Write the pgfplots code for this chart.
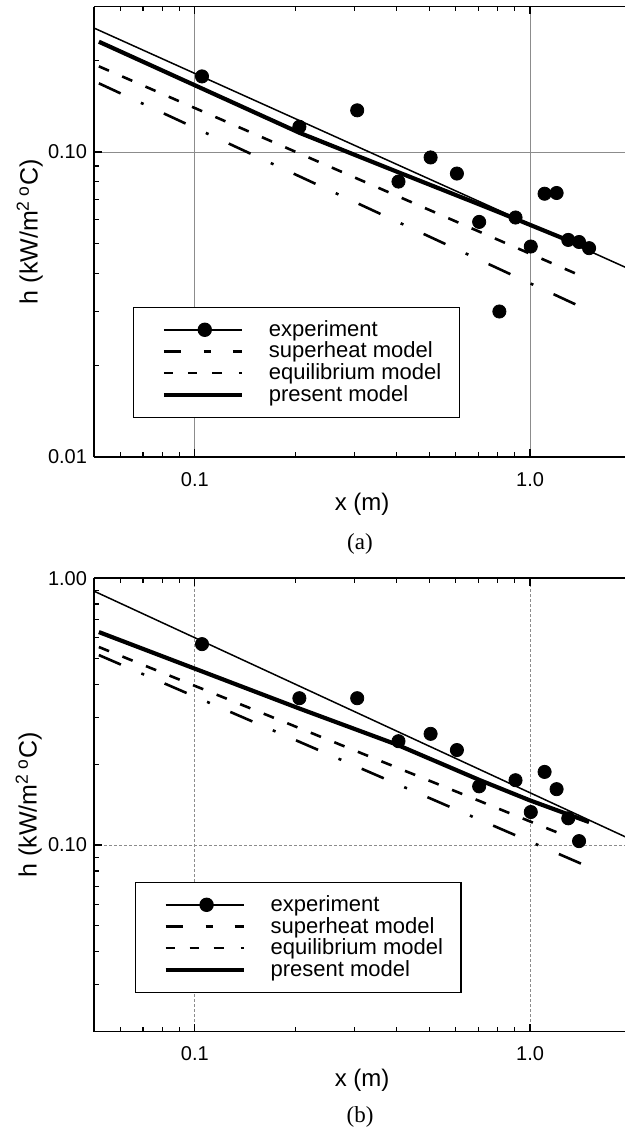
\documentclass[border=0pt]{standalone}
\usepackage{fontspec}
\setmainfont{Liberation Sans}
\newfontfamily\capfont{Liberation Serif}
\usepackage{pgfplots}
\pgfplotsset{compat=1.18}
\usepackage{pgfplotstable}

\pgfplotstableread{
x y
0.105 0.177
0.205 0.121
0.305 0.137
0.405 0.080
0.505 0.096
0.605 0.085
0.705 0.059
0.81 0.030
0.905 0.061
1.005 0.049
1.105 0.073
1.2 0.0734
1.3 0.0515
1.4 0.0507
1.5 0.0484
}\expA

\pgfplotstableread{
x y
0.105 0.566
0.205 0.355
0.305 0.355
0.405 0.245
0.505 0.261
0.605 0.227
0.705 0.166
0.905 0.175
1.005 0.133
1.105 0.188
1.2 0.162
1.3 0.126
1.4 0.1035
}\expB

\pgfplotsset{
  myaxis/.style={
    scale only axis,
    xmin=0.05, xmax=1.92,
    width=265.5pt,
    axis x line=box, axis y line=left,
    axis line style={-, line width=0.7pt},
    tick align=inside,
    every tick/.style={black, line width=0.6pt},
    major tick length=4pt, minor tick length=2.5pt,
    xtick={0.1,1}, xticklabels={0.1,1.0},
    minor xtick={0.06,0.07,0.08,0.09,0.2,0.3,0.4,0.5,0.6,0.7,0.8,0.9},
    tick label style={font=\fontsize{10}{12}\selectfont},
    xticklabel style={yshift=-4pt},
    xlabel={x (m)}, ylabel={h (kW/m\textsuperscript{2 o}C)},
    grid=major,
    legend cell align=left,
    legend style={anchor=north west, draw=black, line width=0.6pt, fill=white,
      inner xsep=9pt, inner ysep=6.35pt, row sep=1.4pt, column sep=12.5pt,
      font=\fontsize{11}{13}\selectfont,
      nodes={inner xsep=0pt, inner ysep=0pt}},
  },
  legexp/.style={legend image code/.code={\path (0pt,0pt); \draw[line width=0.75pt] (5pt,0pt) -- (44pt,0pt); \fill (25.5pt,0pt) circle (3.3pt);}},
  legsup/.style={legend image code/.code={\path (0pt,0pt); \draw[line width=1.1pt] (5pt,0pt) -- (13.8pt,0pt) (25pt,0pt) -- (28.5pt,0pt) (39.5pt,0pt) -- (44pt,0pt);}},
  legequ/.style={legend image code/.code={\path (0pt,0pt); \draw[line width=1.1pt] (5pt,0pt) -- (9.5pt,0pt) (17pt,0pt) -- (21.5pt,0pt) (29pt,0pt) -- (34pt,0pt) (42.5pt,0pt) -- (44pt,0pt);}},
  legpre/.style={legend image code/.code={\path (0pt,0pt); \draw[line width=2.1pt] (5pt,0pt) -- (44pt,0pt);}},
  thinline/.style={black, line width=0.75pt, forget plot},
  expmarks/.style={black, only marks, mark=*, mark size=3.3pt, legexp},
  supline/.style={black, line width=1.3pt, dash pattern=on 12pt off 11.15pt on 1.5pt off 11.15pt, legsup},
  equline/.style={black, line width=1.3pt, dash pattern=on 5.5pt off 7.2pt, legequ},
  preline/.style={black, line width=2.1pt, legpre},
}

\begin{document}
\begin{tikzpicture}
\useasboundingbox (0pt,0pt) rectangle (312.5pt,-565.5pt);

% ---------- panel (a)
\begin{axis}[xmode=log, ymode=log, myaxis, at={(47pt,-228.5pt)}, anchor=south west,
  height=225.25pt, ymin=0.01, ymax=0.3,
  ytick={0.01,0.1}, yticklabels={0.01,0.10},
  minor ytick={0.02,0.03,0.04,0.05,0.06,0.07,0.08,0.09,0.2,0.3},
  major grid style={black!45, line width=0.5pt},
  every axis y label/.style={at={(axis description cs:-0.121,0.5)}, rotate=90, anchor=center, font=\fontsize{12.5}{14}\selectfont},
  every axis x label/.style={at={(axis description cs:0.505,-0.105)}, anchor=center, font=\fontsize{12}{14}\selectfont},
  legend style={at={(axis description cs:0.0736,0.333)}},
]
\addplot[thinline] coordinates {(0.05,0.255) (2,0.0411)};
\addplot[expmarks] table[x=x,y=y] {\expA};
\addlegendentry{experiment}
\addplot[supline] coordinates {(0.0517,0.168) (1.38,0.0315)};
\addlegendentry{superheat model}
\addplot[equline] coordinates {(0.0517,0.191) (1.38,0.0398)};
\addlegendentry{equilibrium model}
\addplot[preline] coordinates {(0.0517,0.230) (0.206,0.1154) (0.406,0.0857) (0.70,0.0676) (0.89,0.0608) (1.25,0.0522) (1.5,0.048)};
\addlegendentry{present model}
\end{axis}

% ---------- panel (b)
\begin{axis}[xmode=log, ymode=log, myaxis, at={(47pt,-515.85pt)}, anchor=south west,
  height=226.8pt, ymin=0.02, ymax=1,
  ytick={0.1,1}, yticklabels={0.10,1.00},
  minor ytick={0.03,0.04,0.05,0.06,0.07,0.08,0.09,0.2,0.3,0.4,0.5,0.6,0.7,0.8,0.9},
  major grid style={black!45, line width=0.5pt, dash pattern=on 1.5pt off 1pt},
  every axis y label/.style={at={(axis description cs:-0.123,0.5)}, rotate=90, anchor=center, font=\fontsize{12.5}{14}\selectfont},
  every axis x label/.style={at={(axis description cs:0.505,-0.108)}, anchor=center, font=\fontsize{12}{14}\selectfont},
  legend style={at={(axis description cs:0.077,0.33)}},
]
\addplot[thinline] coordinates {(0.05,0.894) (2,0.105)};
\addplot[expmarks] table[x=x,y=y] {\expB};
\addlegendentry{experiment}
\addplot[supline] coordinates {(0.0517,0.515) (1.43,0.0849)};
\addlegendentry{superheat model}
\addplot[equline] coordinates {(0.0517,0.552) (1.25,0.1095)};
\addlegendentry{equilibrium model}
\addplot[preline] coordinates {(0.0517,0.628) (0.206,0.324) (0.4,0.238) (0.709,0.175) (1.0,0.147) (1.5,0.122)};
\addlegendentry{present model}
\end{axis}

\node[font=\capfont\fontsize{11.5}{13}\selectfont] at (180pt,-272pt) {(a)};
\node[font=\capfont\fontsize{11.5}{13}\selectfont] at (180pt,-558.5pt) {(b)};
\end{tikzpicture}
\end{document}
